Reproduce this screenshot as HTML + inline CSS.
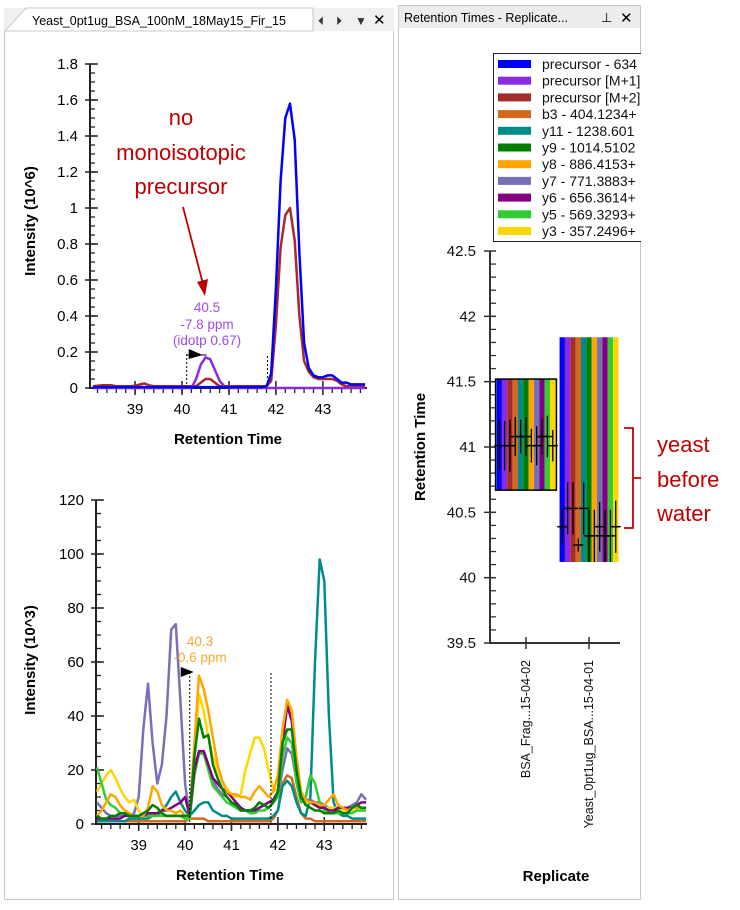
<!DOCTYPE html>
<html><head><meta charset="utf-8"><style>
html,body{margin:0;padding:0;background:#fff;}
svg{display:block;font-family:"Liberation Sans",Arial,sans-serif;}
</style></head><body>
<svg id="s" width="740" height="910" viewBox="0 0 740 910" xmlns="http://www.w3.org/2000/svg">
<rect x="4.5" y="30.5" width="389" height="869" fill="#fff" stroke="#c8c8c8"/>
<rect x="4" y="8" width="390" height="23" fill="#f0f0f0"/>
<path d="M5,31 L26,8 L313,8 L313,31 Z" fill="#fff" stroke="#c8c8c8"/>
<text x="32" y="25" font-size="12.5" fill="#000">Yeast_0pt1ug_BSA_100nM_18May15_Fir_15</text>
<text x="318" y="25" font-size="12" fill="#333">⏴</text>
<text x="336" y="25" font-size="12" fill="#333">⏵</text>
<text x="355" y="25" font-size="12" fill="#333">▼</text>
<text x="373" y="25" font-size="15" fill="#000">✕</text>
<rect x="398.5" y="5.5" width="242" height="894" fill="#fff" stroke="#c8c8c8"/>
<rect x="399" y="6" width="241" height="22" fill="#ececec"/>
<text x="404" y="22" font-size="12.5" fill="#000">Retention Times - Replicate...</text>
<text x="601" y="22" font-size="13" fill="#000">⊥</text>
<text x="620" y="23" font-size="15" fill="#000">✕</text>
<g id="top"></g><g id="bot"></g><g id="rt"></g>
</svg>
<script>
const NS='http://www.w3.org/2000/svg';
function el(p,tag,a){const e=document.createElementNS(NS,tag);for(const k in a)e.setAttribute(k,a[k]);p.appendChild(e);return e;}
function txt(p,x,y,s,a){const e=el(p,'text',Object.assign({x:x,y:y},a));e.textContent=s;return e;}

const times=[38.1,38.2,38.3,38.4,38.5,38.6,38.7,38.8,38.9,39.0,39.1,39.2,39.3,39.4,39.5,39.6,39.7,39.8,39.9,40.0,40.1,40.2,40.3,40.4,40.5,40.6,40.7,40.8,40.9,41.0,41.1,41.2,41.3,41.4,41.5,41.6,41.7,41.8,41.9,42.0,42.1,42.2,42.3,42.4,42.5,42.6,42.7,42.8,42.9,43.0,43.1,43.2,43.3,43.4,43.5,43.6,43.7,43.8,43.9];

const precM2=[0.01,0.012,0.015,0.015,0.015,0.01,0.01,0.01,0.01,0.012,0.02,0.025,0.015,0.01,0.01,0.01,0.01,0.01,0.01,0.01,0.01,0.01,0.01,0.03,0.05,0.05,0.03,0.01,0.01,0.01,0.01,0.01,0.01,0.01,0.01,0.01,0.01,0.01,0.04,0.35,0.78,0.96,1.0,0.82,0.4,0.15,0.09,0.06,0.05,0.05,0.05,0.05,0.04,0.02,0.01,0.01,0.01,0.01,0.01];
const precM1=[0,0,0,0,0,0,0,0,0,0,0,0,0,0,0,0,0,0,0,0,0,0,0.05,0.13,0.17,0.16,0.1,0.04,0.01,0,0,0,0,0,0,0,0,0,0,0,0,0,0,0,0,0,0,0,0,0,0,0,0,0,0,0,0,0,0];
const prec=[0.005,0.005,0.005,0.005,0.005,0.005,0.005,0.005,0.005,0.005,0.005,0.005,0.005,0.005,0.005,0.005,0.005,0.005,0.005,0.005,0.005,0.005,0.005,0.005,0.005,0.005,0.005,0.005,0.005,0.005,0.005,0.005,0.005,0.005,0.005,0.005,0.005,0.01,0.08,0.55,1.15,1.5,1.58,1.38,0.75,0.25,0.11,0.07,0.06,0.06,0.07,0.07,0.05,0.03,0.03,0.02,0.02,0.02,0.02];
const topTicksY=[0,0.2,0.4,0.6,0.8,1,1.2,1.4,1.6,1.8];
const topTickLabelsY=['0','0.2','0.4','0.6','0.8','1','1.2','1.4','1.6','1.8'];
const ticksX=[39,40,41,42,43];

const b3=[1,1,1,1,1,1,1,1,1,1,1,1,1,1,1,1,1,1,1,1,2,2,2,2,1,1,1,1,1,1,1,1,1,1,1,1,1,1,2,5,15,18,17,10,4,2,2,1,1,1,1,1,1,1,1,1,1,1,1];
const y11=[1,1,1,1,1,1,1,2,2,2,2,2,3,3,5,7,10,12,8,5,3,5,7,8,8,5,4,3,3,2,2,2,2,2,2,2,2,2,3,5,14,16,14,8,4,3,10,60,98,90,40,8,4,3,3,2,2,2,2];
const y9=[3,2,2,3,3,4,4,3,3,3,4,5,7,6,4,3,3,3,3,3,3,25,39,32,33,22,17,13,10,8,7,5,5,5,6,8,7,6,8,12,30,35,35,20,10,7,6,5,5,4,4,4,5,4,4,6,7,6,6];
const y8=[3,5,8,11,10,7,5,4,3,3,3,6,14,12,7,5,5,4,5,3,3,30,55,50,42,32,22,16,12,11,11,10,10,9,12,14,12,10,12,18,35,46,42,25,12,9,8,8,7,7,9,11,7,6,5,6,6,6,6];
const y7=[8,6,4,3,3,3,3,3,4,10,35,52,30,15,22,40,72,74,45,15,3,22,26,27,22,16,13,11,10,8,7,6,5,5,5,6,7,8,9,10,20,28,26,16,10,9,9,8,8,7,6,6,6,6,6,7,8,11,9];
const y6=[2,2,2,2,2,2,3,3,3,3,3,4,4,4,5,5,6,7,8,10,3,20,27,27,22,17,15,13,12,10,8,6,5,5,5,6,7,8,9,12,30,44,38,20,10,9,8,7,6,6,5,5,6,6,6,6,7,8,8];
const y5=[21,15,9,7,6,4,4,3,3,3,3,3,3,3,3,3,3,3,3,2,2,18,26,26,20,14,12,10,8,7,6,5,5,4,4,5,5,6,8,10,25,32,30,15,8,10,18,15,8,5,4,4,4,4,4,4,5,5,5];
const y3=[12,15,18,20,17,13,10,8,9,5,3,3,3,3,3,3,3,3,3,2,2,25,48,42,32,25,20,16,13,11,10,11,20,26,32,32,28,20,13,12,30,44,40,22,10,8,8,7,6,6,6,6,6,5,5,5,5,5,5];
const botTicksY=[0,20,40,60,80,100,120];
const botTickLabelsY=['0','20','40','60','80','100','120'];

const replicates=['BSA_Frag...15-04-02','Yeast_0pt1ug_BSA...15-04-01'];
const transitions=['precursor - 634','precursor [M+1]','precursor [M+2]','b3 - 404.1234+','y11 - 1238.601','y9 - 1014.5102','y8 - 886.4153+','y7 - 771.3883+','y6 - 656.3614+','y5 - 569.3293+','y3 - 357.2496+'];
const barTop=[41.52,41.84];
const barBottom=[40.67,40.12];
const medians1=[41.01,41.01,41.01,41.08,41.08,41.08,41.01,41.01,41.08,41.08,41.01];
const medians2=[40.39,40.53,40.53,40.25,40.53,40.32,40.32,40.39,40.32,40.32,40.39];
const errs1=[0.19,0.19,0.2,0.15,0.13,0.15,0.13,0.15,0.14,0.16,0.12];
const errs2=[0.13,0.2,0.2,0.05,0.2,0.2,0.2,0.19,0.2,0.2,0.2];
const rtTicks=[39.5,40,40.5,41,41.5,42,42.5];
const rtTickLabels=['39.5','40','40.5','41','41.5','42','42.5'];

const colors=['#0000ff','#8a2be2','#a52a2a','#d2691e','#008b8b','#008000','#ffa500','#7570b8','#800080','#32cd32','#ffd700'];

function lin(d0,d1,r0,r1){return v=>r0+(v-d0)/(d1-d0)*(r1-r0);}
function pathD(xs,ys,sx,sy){return xs.map((t,i)=>(i?'L':'M')+sx(t).toFixed(1)+','+sy(ys[i]).toFixed(1)).join('');}

function axes(g,sx,sy,x0,x1,y0,y1,yt,ytl,ymin,ymaxMinor,ystep,nm){
  const ax=el(g,'path',{d:`M${sx(x0)},${sy(y1)}L${sx(x0)},${sy(0)}L${sx(x1)},${sy(0)}`,stroke:'#222','stroke-width':2,fill:'none'});
  
  for(let v=ymin;v<=ymaxMinor+1e-9;v+=ystep){el(g,'line',{x1:sx(x0),x2:sx(x0)+5,y1:sy(v),y2:sy(v),stroke:'#222','stroke-width':1.3});}
  yt.forEach((v,i)=>{el(g,'line',{x1:sx(x0)-5,x2:sx(x0)+8,y1:sy(v),y2:sy(v),stroke:'#222','stroke-width':1.5});
    const t=txt(g,sx(x0)-12,sy(v)+5,ytl[i],{'font-size':15,'text-anchor':'end',fill:'#000'});
    });
  for(let v=38.2;v<=43.9;v+=0.2){el(g,'line',{x1:sx(v),x2:sx(v),y1:sy(0),y2:sy(0)+5,stroke:'#222','stroke-width':1.3});}
  ticksX.forEach(v=>{el(g,'line',{x1:sx(v),x2:sx(v),y1:sy(0)-7,y2:sy(0)+7,stroke:'#222','stroke-width':1.5});
    const t=txt(g,sx(v),sy(0)+26,String(v),{'font-size':15,'text-anchor':'middle',fill:'#000'});
    });
}

(function(){
  const g=document.getElementById('top');
  const sx=lin(38.04,43.94,90,367), sy=lin(0,1.8,388,64);
  axes(g,sx,sy,38.04,43.94,0,1.8,topTicksY,topTickLabelsY,0,1.8,0.05,'top');
  [[precM2,2,'m2'],[precM1,1,'m1'],[prec,0,'precursor']].forEach(([d,ci,n])=>{
    const p=el(g,'path',{d:pathD(times,d,sx,sy),stroke:colors[ci],'stroke-width':2.5,fill:'none','stroke-linejoin':'round'});
    
  });
  el(g,'line',{x1:sx(40.1),x2:sx(40.1),y1:354,y2:388,stroke:'#000','stroke-dasharray':'2,2'});
  el(g,'line',{x1:sx(41.82),x2:sx(41.82),y1:356,y2:388,stroke:'#000','stroke-dasharray':'2,2'});
  el(g,'path',{d:`M${sx(40.1)+2},349L${sx(40.1)+16},355L${sx(40.1)+2},359Z`,fill:'#000'});
  el(g,'line',{x1:sx(40.1),x2:sx(40.1)+20,y1:355,y2:355,stroke:'#000','stroke-width':1});
  [['40.5',312],['-7.8 ppm',329],['(idotp 0.67)',345]].forEach(([s,y])=>{const t=txt(g,207,y,s,{'font-size':13.5,'text-anchor':'middle',fill:'#a24be0'});
    });
  [['no',125],['monoisotopic',160],['precursor',194]].forEach(([s,y])=>{const t=txt(g,181,y,s,{'font-size':22,'text-anchor':'middle',fill:'#c00000'});
    });
  el(g,'line',{x1:183,y1:207,x2:203,y2:284,stroke:'#c00000','stroke-width':1.8});
  el(g,'path',{d:'M197,282L205,296L208,279Z',fill:'#c00000'});
  const xt=txt(g,228,444,'Retention Time',{'font-size':15,'font-weight':'bold','text-anchor':'middle'});
  
  const yt=txt(g,0,0,'Intensity (10^6)',{'font-size':15,'font-weight':'bold','text-anchor':'middle',transform:'translate(35,221) rotate(-90)'});
  
})();

(function(){
  const g=document.getElementById('bot');
  const sx=lin(38.08,43.92,96,367), sy=lin(0,120,824,500);
  axes(g,sx,sy,38.08,43.92,0,120,botTicksY,botTickLabelsY,0,120,5,'bottom');
  const series=[[b3,3,'b3'],[y11,4,'y11'],[y7,7,'y7'],[y3,10,'y3'],[y5,9,'y5'],[y6,8,'y6'],[y8,6,'y8'],[y9,5,'y9']];
  series.forEach(([d,ci,n])=>{
    const p=el(g,'path',{d:pathD(times,d,sx,sy),stroke:colors[ci],'stroke-width':2.5,fill:'none','stroke-linejoin':'round'});
    
  });
  el(g,'line',{x1:sx(40.1),x2:sx(40.1),y1:672,y2:824,stroke:'#000','stroke-dasharray':'2,2'});
  el(g,'line',{x1:sx(41.85),x2:sx(41.85),y1:673,y2:824,stroke:'#000','stroke-dasharray':'2,2'});
  el(g,'path',{d:`M${sx(40.1)-9},667L${sx(40.1)+4},672L${sx(40.1)-9},677Z`,fill:'#000'});
  [['40.3',646],['-0.6 ppm',662]].forEach(([s,y])=>{const t=txt(g,200,y,s,{'font-size':13.5,'text-anchor':'middle',fill:'#f8a830'});
    });
  const xt=txt(g,230,880,'Retention Time',{'font-size':15,'font-weight':'bold','text-anchor':'middle'});
  
  const yt=txt(g,0,0,'Intensity (10^3)',{'font-size':15,'font-weight':'bold','text-anchor':'middle',transform:'translate(35,660) rotate(-90)'});
  
})();

(function(){
  const g=document.getElementById('rt');
  const sy=lin(39.5,42.5,643,251);
  const cx=[526,589], bw=5.35;
  const ax=el(g,'path',{d:`M490,251L490,643L620,643`,stroke:'#333','stroke-width':2,fill:'none'});
  
  for(let v=39.6;v<42.5;v+=0.1){el(g,'line',{x1:490,x2:496,y1:sy(v),y2:sy(v),stroke:'#333','stroke-width':1.3});}
  rtTicks.forEach((v,i)=>{el(g,'line',{x1:484,x2:496,y1:sy(v),y2:sy(v),stroke:'#333','stroke-width':1.5});
    const t=txt(g,476,sy(v)+5,rtTickLabels[i],{'font-size':15,'text-anchor':'end',fill:'#111'});
    });
  const meds=[medians1,medians2], errs=[errs1,errs2];
  replicates.forEach((r,c)=>{
    const x0=cx[c]-bw*transitions.length/2;
    transitions.forEach((tr,i)=>{
      const b=el(g,'rect',{x:x0+i*bw,y:sy(barTop[c]),width:bw,height:sy(barBottom[c])-sy(barTop[c]),fill:colors[i]});
      
    });
    transitions.forEach((tr,i)=>{
      const xm=x0+i*bw+bw/2, m=meds[c][i], e=errs[c][i];
      el(g,'line',{x1:xm,x2:xm,y1:sy(m+e),y2:sy(m-e),stroke:'#000','stroke-width':1.3});
      el(g,'line',{x1:xm-5,x2:xm+5,y1:sy(m),y2:sy(m),stroke:'#000','stroke-width':1.5});
    });
    el(g,'line',{x1:cx[c],x2:cx[c],y1:637,y2:649,stroke:'#333','stroke-width':1.5});
    const t=txt(g,0,0,r,{'font-size':12.5,'text-anchor':'end',fill:'#111',transform:`translate(${cx[c]+4},660) rotate(-90)`});
    
  });
  const sel=el(g,'rect',{x:cx[0]-bw*5.5-1,y:sy(barTop[0]),width:bw*11+2,height:sy(barBottom[0])-sy(barTop[0]),fill:'none',stroke:'#000','stroke-width':1.5});
  
  const lg=el(g,'g',{});
  el(lg,'rect',{x:493.5,y:53.5,width:150,height:188,fill:'#fff',stroke:'#222','stroke-width':1});
  transitions.forEach((tr,i)=>{
    const y=64+i*16.7;
    const sw=el(lg,'rect',{x:498,y:y-4,width:33,height:8,fill:colors[i]});
    
    const t=txt(lg,542,y+5,tr,{'font-size':14,fill:'#111'});
    
  });
  el(g,'rect',{x:641,y:50,width:99,height:200,fill:'#fff'});
  el(g,'path',{d:'M624,428L633,428L633,528L624,528M633,478L641,478',stroke:'#c00000','stroke-width':1.8,fill:'none'});
  [['yeast',452],['before',487],['water',521]].forEach(([s,y])=>{const t=txt(g,657,y,s,{'font-size':22,fill:'#c00000'});
    });
  const xt=txt(g,556,881,'Replicate',{'font-size':15,'font-weight':'bold','text-anchor':'middle'});
  
  const yt=txt(g,0,0,'Retention Time',{'font-size':15,'font-weight':'bold','text-anchor':'middle',transform:'translate(425,447) rotate(-90)'});
  
})();
</script>
</body></html>
